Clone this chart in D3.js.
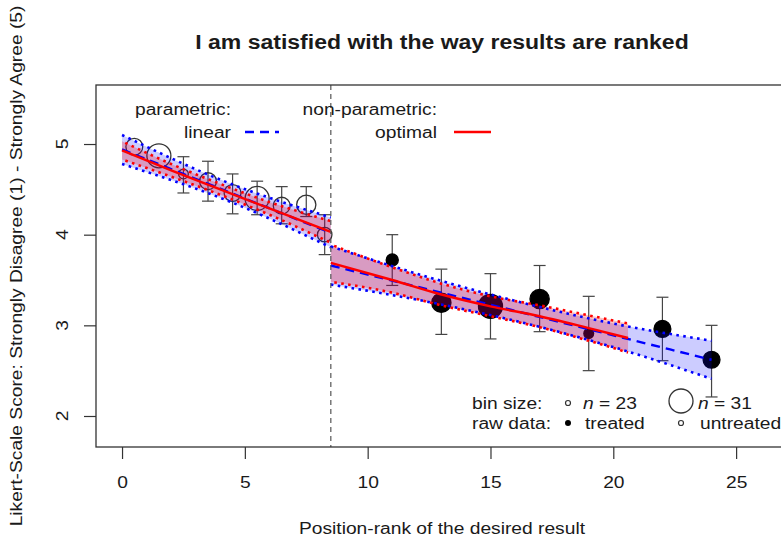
<!DOCTYPE html>
<html lang="en">
<head>
<meta charset="utf-8">
<script src="https://d3js.org/d3.v7.min.js"></script>
<style>
  body { margin: 0; background: #fff; }
  text { font-family: "Liberation Sans", Arial, sans-serif; fill: #1a1a1a; }
</style>
</head>
<body>
<script>
// values
var xTicks = [0, 5, 10, 15, 20, 25];
var yTicks = [2, 3, 4, 5];
var breakX = 8.5;

// binned means, open circles (left of the break)
var untreatedX    = [0.5, 1.5, 2.5, 3.5, 4.5, 5.5, 6.5, 7.5, 8.25];
var untreatedMean = [4.97, 4.87, 4.67, 4.59, 4.46, 4.40, 4.32, 4.33, 4.00];
var untreatedLo   = [null, null, 4.46, 4.37, 4.23, 4.22, 4.12, 4.20, 3.78];
var untreatedHi   = [null, null, 4.86, 4.81, 4.67, 4.59, 4.53, 4.53, 4.22];
var untreatedN    = [28, 31, 25, 28, 28, 31, 28, 29, 27];

// binned means, filled circles (right of the break)
var treatedX    = [11, 13, 15, 17, 19, 22, 24];
var treatedMean = [3.72, 3.25, 3.21, 3.29, 2.91, 2.96, 2.62];
var treatedLo   = [3.44, 2.90, 2.85, 2.93, 2.50, 2.61, 2.21];
var treatedHi   = [4.00, 3.62, 3.57, 3.66, 3.32, 3.31, 3.00];
var treatedN    = [26, 29, 31, 29, 25, 28, 28];

// parametric (linear) fits with bands
var linLeftX   = [0, 4.25, 8.5];
var linLeftFit = [4.94, 4.48, 4.02];
var linLeftLo  = [4.78, 4.38, 3.86];
var linLeftHi  = [5.10, 4.58, 4.19];

var linRightX   = [8.5, 13, 16, 20, 24];
var linRightFit = [3.66, 3.36, 3.16, 2.89, 2.62];
var linRightLo  = [3.45, 3.23, 3.05, 2.76, 2.41];
var linRightHi  = [3.87, 3.49, 3.27, 3.02, 2.83];

// non-parametric (optimal) fits with bands
var optLeftX   = [0, 2, 4, 6, 8.5];
var optLeftFit = [4.93, 4.71, 4.50, 4.29, 4.03];
var optLeftLo  = [4.83, 4.64, 4.44, 4.22, 3.91];
var optLeftHi  = [5.03, 4.78, 4.56, 4.36, 4.15];

var optRightX   = [8.5, 11, 13, 15, 17, 19, 20.6];
var optRightFit = [3.69, 3.50, 3.34, 3.21, 3.10, 2.97, 2.86];
var optRightLo  = [3.48, 3.36, 3.22, 3.10, 2.98, 2.83, 2.70];
var optRightHi  = [3.89, 3.64, 3.46, 3.32, 3.22, 3.11, 3.02];

var width = 781, height = 543;
var plot = {left: 96, right: 799, top: 85, bottom: 447};
var midX = 442;

var x = d3.scaleLinear().domain([-1.06, 27.56]).range([plot.left, plot.right]);
var y = d3.scaleLinear().domain([1.658, 5.651]).range([plot.bottom, plot.top]);
var r = d3.scaleLinear().domain([23, 31]).range([2.5, 12]);

var svg = d3.select("body").append("svg").attr("width", width).attr("height", height);

function rows(xs, m, lo, hi, n) {
  return xs.map(function(v, i) { return {x: v, m: m[i], lo: lo[i], hi: hi[i], n: n ? n[i] : null}; });
}

// ---- points + error bars (drawn under the bands, as in the original) ----
function drawPoints(data, filled) {
  var g = svg.append("g");
  var eb = g.selectAll("g.eb").data(data.filter(function(d) { return d.lo != null; })).enter().append("g")
    .attr("stroke", "#444").attr("stroke-width", 1.2);
  eb.append("line").attr("x1", function(d) { return x(d.x); }).attr("x2", function(d) { return x(d.x); })
    .attr("y1", function(d) { return y(d.lo); }).attr("y2", function(d) { return y(d.hi); });
  eb.append("line").attr("x1", function(d) { return x(d.x) - 6; }).attr("x2", function(d) { return x(d.x) + 6; })
    .attr("y1", function(d) { return y(d.lo); }).attr("y2", function(d) { return y(d.lo); });
  eb.append("line").attr("x1", function(d) { return x(d.x) - 6; }).attr("x2", function(d) { return x(d.x) + 6; })
    .attr("y1", function(d) { return y(d.hi); }).attr("y2", function(d) { return y(d.hi); });
  g.selectAll("circle").data(data).enter().append("circle")
    .attr("cx", function(d) { return x(d.x); })
    .attr("cy", function(d) { return y(d.m); })
    .attr("r", function(d) { return r(d.n); })
    .attr("fill", filled ? "#000" : "none")
    .attr("stroke", filled ? "#000" : "#333")
    .attr("stroke-width", 1.3);
}
drawPoints(rows(untreatedX, untreatedMean, untreatedLo, untreatedHi, untreatedN), false);
drawPoints(rows(treatedX, treatedMean, treatedLo, treatedHi, treatedN), true);

// ---- bands and fits ----
var bands = [
  {d: rows(linLeftX, linLeftFit, linLeftLo, linLeftHi), col: "blue", fill: "rgba(0,0,255,0.2)", fit: "9,6", w: 2.4},
  {d: rows(linRightX, linRightFit, linRightLo, linRightHi), col: "blue", fill: "rgba(0,0,255,0.2)", fit: "9,6", w: 2.4},
  {d: rows(optLeftX, optLeftFit, optLeftLo, optLeftHi), col: "red", fill: "rgba(255,0,0,0.24)", fit: null, w: 2.4},
  {d: rows(optRightX, optRightFit, optRightLo, optRightHi), col: "red", fill: "rgba(255,0,0,0.24)", fit: null, w: 2.4}
];

var area = d3.area().curve(d3.curveMonotoneX)
  .x(function(d) { return x(d.x); }).y0(function(d) { return y(d.lo); }).y1(function(d) { return y(d.hi); });
var lineOf = function(key) {
  return d3.line().curve(d3.curveMonotoneX).x(function(d) { return x(d.x); }).y(function(d) { return y(d[key]); });
};

bands.forEach(function(b) {
  svg.append("path").attr("d", area(b.d)).attr("fill", b.fill).attr("stroke", "none");
});
bands.forEach(function(b, i) {
  ["lo", "hi"].forEach(function(k) {
    svg.append("path").attr("d", lineOf(k)(b.d)).attr("fill", "none")
      .attr("stroke", b.col).attr("stroke-width", 2.6)
      .attr("stroke-dasharray", "2.6,4.4")
      .attr("stroke-dashoffset", b.col == "red" ? 3.5 : 0);
  });
});
bands.forEach(function(b) {
  svg.append("path").attr("d", lineOf("m")(b.d)).attr("fill", "none")
    .attr("stroke", b.col).attr("stroke-width", b.w)
    .attr("stroke-dasharray", b.fit);
});

// ---- break line, box, axes ----
svg.append("line").attr("x1", x(breakX)).attr("x2", x(breakX))
  .attr("y1", plot.top).attr("y2", plot.bottom)
  .attr("stroke", "#555").attr("stroke-width", 1.2).attr("stroke-dasharray", "5,4");

svg.append("rect").attr("x", plot.left).attr("y", plot.top)
  .attr("width", plot.right - plot.left).attr("height", plot.bottom - plot.top)
  .attr("fill", "none").attr("stroke", "#333").attr("stroke-width", 1.3);

var xa = svg.append("g").attr("transform", "translate(0," + plot.bottom + ")")
  .call(d3.axisBottom(x).tickValues(xTicks).tickSize(12).tickPadding(18).tickSizeOuter(0));
xa.select(".domain").remove();
xa.selectAll("line").attr("stroke", "#333").attr("stroke-width", 1.2);
xa.selectAll("text").attr("font-size", 16).attr("font-family", null).attr("fill", null);
xa.attr("font-family", null);

var ya = svg.append("g").attr("transform", "translate(" + plot.left + ",0)")
  .call(d3.axisLeft(y).tickValues(yTicks).tickSize(12).tickFormat("").tickSizeOuter(0));
ya.select(".domain").remove();
ya.selectAll("line").attr("stroke", "#333").attr("stroke-width", 1.2);

svg.selectAll("text.ytick").data(yTicks).enter().append("text").attr("class", "ytick")
  .attr("transform", function(d) { return "translate(68," + y(d) + ") rotate(-90)"; })
  .attr("text-anchor", "middle").attr("font-size", 16).text(function(d) { return d; });

// ---- titles ----
svg.append("text").attr("class", "title").attr("x", midX).attr("y", 49)
  .attr("text-anchor", "middle").attr("font-size", 20).attr("font-weight", "bold")
  .text("I am satisfied with the way results are ranked");
svg.append("text").attr("x", midX).attr("y", 534)
  .attr("text-anchor", "middle").attr("font-size", 16)
  .text("Position-rank of the desired result");
svg.append("text").attr("transform", "translate(22," + ((plot.top + plot.bottom) / 2) + ") rotate(-90)")
  .attr("text-anchor", "middle").attr("font-size", 16)
  .text("Likert-Scale Score: Strongly Disagree (1) - Strongly Agree (5)");

// ---- top legend ----
var leg = svg.append("g").attr("font-size", 16);
leg.append("text").attr("x", 231).attr("y", 115).attr("text-anchor", "end").text("parametric:");
leg.append("text").attr("x", 231).attr("y", 138).attr("text-anchor", "end").text("linear");
leg.append("line").attr("x1", 245).attr("x2", 279).attr("y1", 132).attr("y2", 132)
  .attr("stroke", "blue").attr("stroke-width", 2.4).attr("stroke-dasharray", "9,6");
leg.append("text").attr("x", 437).attr("y", 115).attr("text-anchor", "end").text("non-parametric:");
leg.append("text").attr("x", 437).attr("y", 138).attr("text-anchor", "end").text("optimal");
leg.append("line").attr("x1", 454).attr("x2", 491).attr("y1", 132).attr("y2", 132)
  .attr("stroke", "red").attr("stroke-width", 2.4);

// ---- bottom legend ----
var leg2 = svg.append("g").attr("font-size", 16);
leg2.append("text").attr("x", 472).attr("y", 409).text("bin size:");
leg2.append("circle").attr("cx", 568).attr("cy", 403).attr("r", r(23)).attr("fill", "none").attr("stroke", "#333").attr("stroke-width", 1.2);
var t1 = leg2.append("text").attr("x", 583).attr("y", 409);
t1.append("tspan").attr("font-style", "italic").text("n");
t1.append("tspan").text(" = 23");
leg2.append("circle").attr("cx", 681).attr("cy", 401).attr("r", r(31)).attr("fill", "none").attr("stroke", "#333").attr("stroke-width", 1.3);
var t2 = leg2.append("text").attr("x", 698).attr("y", 409);
t2.append("tspan").attr("font-style", "italic").text("n");
t2.append("tspan").text(" = 31");
leg2.append("text").attr("x", 472).attr("y", 429).text("raw data:");
leg2.append("circle").attr("cx", 568).attr("cy", 423).attr("r", 3).attr("fill", "#000");
leg2.append("text").attr("x", 585).attr("y", 429).text("treated");
leg2.append("circle").attr("cx", 681).attr("cy", 423).attr("r", 2.5).attr("fill", "none").attr("stroke", "#333").attr("stroke-width", 1.2);
leg2.append("text").attr("x", 700).attr("y", 429).text("untreated");

// the original's font runs wider than Liberation Sans, so widen the glyphs a bit
svg.selectAll("text").each(function() {
  var k = d3.select(this).classed("title") ? 1.15 : 1.2;
  var w = this.getComputedTextLength();
  d3.select(this).attr("textLength", w * k).attr("lengthAdjust", "spacingAndGlyphs");
});
</script>
</body>
</html>
